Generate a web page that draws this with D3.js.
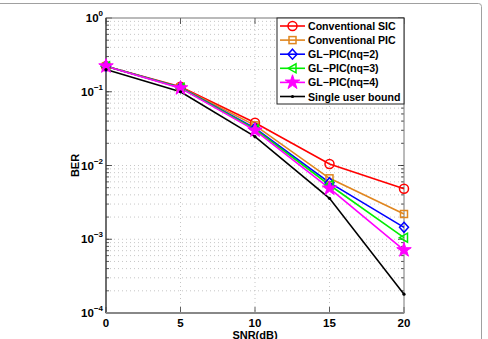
<!DOCTYPE html>
<html>
<head>
<meta charset="utf-8">
<script src="https://cdn.jsdelivr.net/npm/d3@7"></script>
<style>
  body { margin: 0; background: #fff; }
  text { font-family: "Liberation Sans", Arial, sans-serif; font-weight: bold; }
</style>
</head>
<body>
<div id="display"></div>
<script>
// values
const snr = [0, 5, 10, 15, 20];
const sic = [0.222, 0.117, 0.038, 0.0105, 0.00485];
const pic = [0.222, 0.115, 0.035, 0.0067, 0.0022];
const nq2 = [0.222, 0.114, 0.032, 0.00585, 0.00145];
const nq3 = [0.222, 0.113, 0.031, 0.00544, 0.00105];
const nq4 = [0.222, 0.112, 0.030, 0.0049, 0.000714];
const single = [0.2, 0.1, 0.0246, 0.00359, 0.00018];
const xTicks = [0, 5, 10, 15, 20];
const yTicks = [0, -1, -2, -3, -4];

const series = [
  {name: 'Conventional SIC', data: sic, color: '#ff0000', marker: 'circle'},
  {name: 'Conventional PIC', data: pic, color: '#e0861f', marker: 'square'},
  {name: 'GL\u2212PIC(nq=2)', data: nq2, color: '#0000ff', marker: 'diamond'},
  {name: 'GL\u2212PIC(nq=3)', data: nq3, color: '#00ee00', marker: 'triangle'},
  {name: 'GL\u2212PIC(nq=4)', data: nq4, color: '#ff00ff', marker: 'star'},
  {name: 'Single user bound', data: single, color: '#000000', marker: 'dot'}
];

const svg = d3.select('#display')
  .append('svg')
  .attr('width', 488)
  .attr('height', 339);

// figure frame
svg.append('rect')
  .attr('x', -10).attr('y', 3.5)
  .attr('width', 491.5).attr('height', 400)
  .attr('rx', 3)
  .attr('fill', 'none').attr('stroke', '#a0a0a0');

const pLeft = 106, pRight = 404, pTop = 18, pBottom = 313;

const x = d3.scaleLinear().domain([0, 20]).range([pLeft, pRight]);
const y = d3.scaleLog().domain([1e-4, 1]).range([pBottom, pTop]);

// grid: dotted lines at x ticks and minor log ticks
const grid = svg.append('g')
  .attr('stroke', '#b8b8b8').attr('stroke-width', 0.8)
  .attr('stroke-dasharray', '1,3');
xTicks.slice(1, -1).forEach(t => {
  grid.append('line').attr('x1', x(t)).attr('x2', x(t)).attr('y1', pTop).attr('y2', pBottom);
});
const minor = [];
for (let e = -4; e < 0; e++) {
  for (let m = 1; m <= 9; m++) {
    if (e === -4 && m === 1) continue;
    minor.push(m * Math.pow(10, e));
  }
}
minor.forEach(v => {
  grid.append('line').attr('x1', pLeft).attr('x2', pRight).attr('y1', y(v)).attr('y2', y(v));
});

// minor ticks on the y axis
const ticks = svg.append('g').attr('stroke', '#333').attr('stroke-width', 0.8);
minor.forEach(v => {
  ticks.append('line').attr('x1', pLeft).attr('x2', pLeft + 3).attr('y1', y(v)).attr('y2', y(v));
  ticks.append('line').attr('x1', pRight).attr('x2', pRight - 3).attr('y1', y(v)).attr('y2', y(v));
});
yTicks.forEach(e => {
  const v = Math.pow(10, e);
  ticks.append('line').attr('x1', pLeft).attr('x2', pLeft + 6).attr('y1', y(v)).attr('y2', y(v));
  ticks.append('line').attr('x1', pRight).attr('x2', pRight - 6).attr('y1', y(v)).attr('y2', y(v));
});
xTicks.forEach(t => {
  ticks.append('line').attr('x1', x(t)).attr('x2', x(t)).attr('y1', pBottom).attr('y2', pBottom - 6);
  ticks.append('line').attr('x1', x(t)).attr('x2', x(t)).attr('y1', pTop).attr('y2', pTop + 6);
});

// axes box
svg.append('rect')
  .attr('x', pLeft).attr('y', pTop)
  .attr('width', pRight - pLeft).attr('height', pBottom - pTop)
  .attr('fill', 'none').attr('stroke', '#777').attr('stroke-width', 1);
svg.append('line').attr('x1', pLeft).attr('x2', pLeft).attr('y1', pTop).attr('y2', pBottom)
  .attr('stroke', '#222').attr('stroke-width', 1);
svg.append('line').attr('x1', pLeft).attr('x2', pRight).attr('y1', pBottom).attr('y2', pBottom)
  .attr('stroke', '#888').attr('stroke-width', 2);

// tick labels
xTicks.forEach(t => {
  svg.append('text')
    .attr('x', x(t)).attr('y', pBottom + 14)
    .attr('text-anchor', 'middle')
    .attr('font-size', '11.5px')
    .text(t);
});
yTicks.forEach(e => {
  const lab = svg.append('text')
    .attr('x', pLeft - 3).attr('y', y(Math.pow(10, e)) + 4)
    .attr('text-anchor', 'end')
    .attr('font-size', '11.5px');
  lab.append('tspan').text('10');
  lab.append('tspan').attr('dy', -6).attr('font-size', '8px')
    .text(e === 0 ? '0' : '\u2212' + Math.abs(e));
});

svg.append('text')
  .attr('x', (pLeft + pRight) / 2).attr('y', 338.5)
  .attr('text-anchor', 'middle').attr('font-size', '11px')
  .text('SNR(dB)');
svg.append('text')
  .attr('transform', `translate(79, ${(pTop + pBottom) / 2}) rotate(-90)`)
  .attr('text-anchor', 'middle').attr('font-size', '11px')
  .text('BER');

// markers
function drawMarker(g, kind, cx, cy, color) {
  if (kind === 'circle') {
    g.append('circle').attr('cx', cx).attr('cy', cy).attr('r', 4.5)
      .attr('fill', 'none').attr('stroke', color).attr('stroke-width', 1.5);
  } else if (kind === 'square') {
    g.append('rect').attr('x', cx - 3.5).attr('y', cy - 3.5).attr('width', 7).attr('height', 7)
      .attr('fill', 'none').attr('stroke', color).attr('stroke-width', 1.5);
  } else if (kind === 'diamond') {
    g.append('path').attr('d', `M${cx},${cy - 5}L${cx + 4.5},${cy}L${cx},${cy + 5}L${cx - 4.5},${cy}Z`)
      .attr('fill', 'none').attr('stroke', color).attr('stroke-width', 1.5);
  } else if (kind === 'triangle') {
    g.append('path').attr('d', `M${cx - 4.5},${cy}L${cx + 3.5},${cy - 4.5}L${cx + 3.5},${cy + 4.5}Z`)
      .attr('fill', 'none').attr('stroke', color).attr('stroke-width', 1.5);
  } else if (kind === 'star') {
    g.append('path').attr('d', d3.symbol(d3.symbolStar, 65)())
      .attr('transform', `translate(${cx},${cy})`)
      .attr('fill', color).attr('stroke', color).attr('stroke-width', 1);
  } else if (kind === 'dot') {
    g.append('circle').attr('cx', cx).attr('cy', cy).attr('r', 1.6).attr('fill', color);
  }
}

const line = d3.line().x((d, i) => x(snr[i])).y(d => y(d));

const plot = svg.append('g');
series.forEach(s => {
  plot.append('path')
    .attr('d', line(s.data))
    .attr('fill', 'none')
    .attr('stroke', s.color)
    .attr('stroke-width', 1.6);
});
series.forEach(s => {
  s.data.forEach((d, i) => drawMarker(plot, s.marker, x(snr[i]), y(d), s.color));
});

// legend
const lg = svg.append('g');
lg.append('rect')
  .attr('x', 277).attr('y', pTop)
  .attr('width', pRight - 277).attr('height', 86)
  .attr('fill', '#fff').attr('stroke', '#222').attr('stroke-width', 1);
series.forEach((s, i) => {
  const ly = 26 + i * 14.1;
  lg.append('line').attr('x1', 280).attr('x2', 305).attr('y1', ly).attr('y2', ly)
    .attr('stroke', s.color).attr('stroke-width', 1.6);
  drawMarker(lg, s.marker, 292.5, ly, s.color);
  lg.append('text')
    .attr('x', 308).attr('y', ly + 4)
    .attr('font-size', '10.6px')
    .text(s.name);
});
</script>
</body>
</html>
